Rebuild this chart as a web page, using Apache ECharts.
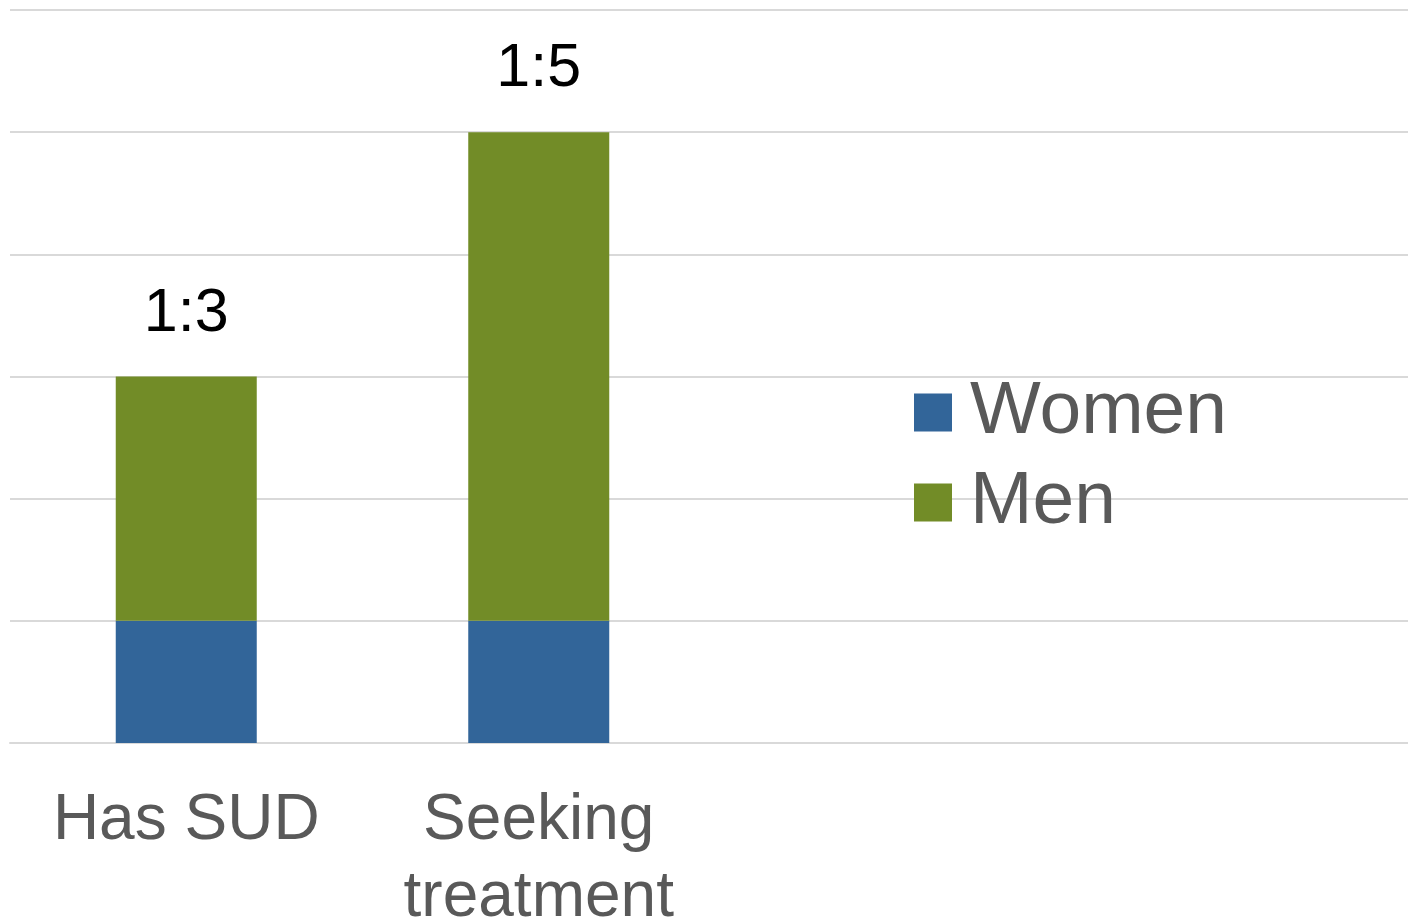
<!DOCTYPE html>
<html>
<head>
<meta charset="utf-8">
<script src="https://cdn.jsdelivr.net/npm/echarts@6/dist/echarts.min.js"></script>
<style>
html,body{margin:0;padding:0;background:#fff;}
#chart{width:1408px;height:918px;}
</style>
</head>
<body>
<div id="chart"></div>
<script>
const categories = ['Has SUD', 'Seeking\ntreatment'];
const women = [1, 1];
const men = [2, 4];
const ratioLabels = ['1:3', '1:5'];
const seriesNames = ['Women', 'Men'];

const chart = echarts.init(document.getElementById('chart'));
const FONT = '"Liberation Sans", Arial, sans-serif';
chart.setOption({
  animation: false,
  backgroundColor: '#ffffff',
  grid: { left: 10, right: -12, top: 10, bottom: 175, containLabel: false, outerBoundsMode: 'none' },
  legend: {
    orient: 'vertical',
    left: 914,
    top: 375,
    padding: 0,
    itemWidth: 38,
    itemHeight: 38,
    itemGap: 15,
    icon: 'rect',
    data: seriesNames,
    textStyle: { fontFamily: FONT, fontSize: 75, lineHeight: 75, color: '#595959', padding: [0, 0, 0, 13] }
  },
  xAxis: {
    type: 'category',
    data: categories,
    max: 3,
    axisTick: { show: false },
    axisLine: { show: true, lineStyle: { color: '#d9d9d9', width: 2 } },
    axisLabel: {
      interval: 0,
      margin: 40,
      fontFamily: FONT,
      fontSize: 64,
      lineHeight: 77,
      color: '#595959',
      formatter: function (v) { return typeof v === 'string' ? v : ''; }
    }
  },
  yAxis: {
    type: 'value',
    min: 0,
    max: 6,
    interval: 1,
    axisLabel: { show: false },
    axisLine: { show: false },
    axisTick: { show: false },
    splitLine: { show: true, lineStyle: { color: '#d9d9d9', width: 2 } }
  },
  series: [
    {
      name: seriesNames[0],
      type: 'bar',
      stack: 'total',
      barWidth: 141,
      data: women,
      itemStyle: { color: '#326599' }
    },
    {
      name: seriesNames[1],
      type: 'bar',
      stack: 'total',
      barWidth: 141,
      data: men,
      itemStyle: { color: '#728C27' },
      label: {
        show: true,
        position: 'top',
        distance: 32,
        fontFamily: FONT,
        fontSize: 61,
        color: '#000000',
        formatter: function (p) { return ratioLabels[p.dataIndex]; }
      }
    }
  ]
});
</script>
</body>
</html>
